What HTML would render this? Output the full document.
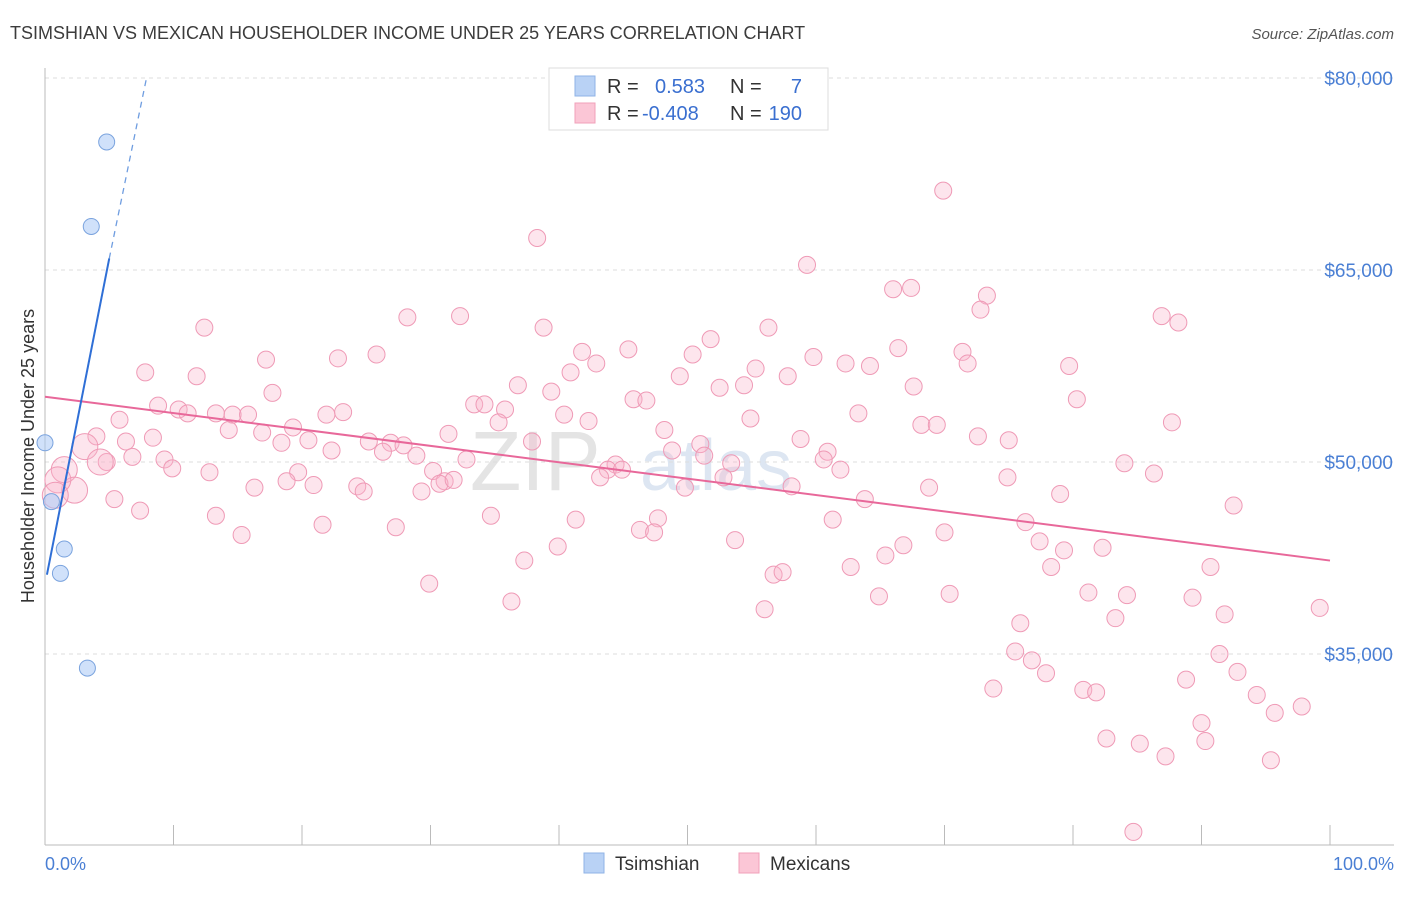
<!DOCTYPE html>
<html><head><meta charset="utf-8">
<style>
body{margin:0;background:#fff;font-family:"Liberation Sans",sans-serif;}
svg text{font-family:"Liberation Sans",sans-serif;}
</style></head>
<body>
<svg id="chart" width="1406" height="892" viewBox="0 0 1406 892">
<text x="10" y="39" font-size="18" fill="#3c3c3c">TSIMSHIAN VS MEXICAN HOUSEHOLDER INCOME UNDER 25 YEARS CORRELATION CHART</text>
<text x="1394" y="39" font-size="15" fill="#555" font-style="italic" text-anchor="end">Source: ZipAtlas.com</text>
<text x="470" y="490" font-size="84" fill="#e4e4e4" font-family="Liberation Serif">ZIP</text>
<text x="640" y="490" font-size="72" fill="#dde6f2">atlas</text>
<g id="grid"></g>
<g id="axes"></g>
<g id="marks"></g>
<text transform="translate(34,456) rotate(-90)" font-size="18" fill="#333" text-anchor="middle">Householder Income Under 25 years</text>
<text x="45" y="870" font-size="18" fill="#4a7fd4">0.0%</text>
<text x="1394" y="870" font-size="18" fill="#4a7fd4" text-anchor="end">100.0%</text>
<g>
<rect x="549" y="68" width="279" height="62" fill="#fff" stroke="#ddd"/>
<rect x="575" y="76" width="20" height="20" fill="#b9d2f5" stroke="#8fb3e6"/>
<rect x="575" y="103" width="20" height="20" fill="#fbc6d6" stroke="#f0a0ba"/>
<text x="607" y="93" font-size="20" fill="#333">R =</text>
<text x="655" y="93" font-size="20" fill="#3a6fd0">0.583</text>
<text x="730" y="93" font-size="20" fill="#333">N =</text>
<text x="802" y="93" font-size="20" fill="#3a6fd0" text-anchor="end">7</text>
<text x="607" y="120" font-size="20" fill="#333">R =</text>
<text x="642" y="120" font-size="20" fill="#3a6fd0">-0.408</text>
<text x="730" y="120" font-size="20" fill="#333">N =</text>
<text x="802" y="120" font-size="20" fill="#3a6fd0" text-anchor="end">190</text>
</g>
<g>
<rect x="584" y="853" width="20" height="20" fill="#b9d2f5" stroke="#8fb3e6"/>
<text x="615" y="870" font-size="19" fill="#333">Tsimshian</text>
<rect x="739" y="853" width="20" height="20" fill="#fbc6d6" stroke="#f0a0ba"/>
<text x="770" y="870" font-size="19" fill="#333">Mexicans</text>
</g>
</svg>
<script>
const yTicks=[35000,50000,65000,80000];
const yTickLabels=["$35,000","$50,000","$65,000","$80,000"];
const tsX=[0.0,0.5,4.8,3.6,1.5,1.2,3.3];
const tsY=[51.5,46.9,75.0,68.4,43.2,41.3,33.9];
const mxX=[69.9,38.3,59.3,66.0,67.4,73.3,72.8,28.2,32.3,12.4,38.8,56.3,86.9,88.2,51.8,71.4,17.2,22.8,25.8,41.8,45.4,50.4,42.9,59.8,62.3,64.2,66.4,71.8,79.7,7.8,11.8,40.9,49.4,55.3,57.8,36.8,39.4,52.5,54.4,67.6,17.7,80.3,8.8,10.4,11.1,13.3,14.6,15.8,21.9,23.2,33.4,34.2,35.8,45.8,46.8,40.4,42.3,54.9,63.3,87.7,5.8,14.3,16.9,19.3,35.3,68.2,69.4,48.2,72.6,75.0,4.0,8.4,6.3,20.5,22.3,25.2,26.9,27.9,31.4,37.9,51.0,58.8,60.9,28.9,26.3,18.4,32.8,48.8,51.3,60.6,4.8,6.8,9.3,9.9,12.8,19.7,30.2,44.4,53.4,61.9,43.8,44.9,84.0,86.3,74.9,52.8,43.2,31.1,30.7,31.8,24.3,24.8,20.9,18.8,16.3,29.3,49.8,58.1,63.8,68.8,79.0,92.5,5.4,7.4,13.3,15.3,21.6,27.3,34.7,41.3,47.7,61.3,76.3,46.3,47.4,53.7,70.0,77.4,79.3,82.3,39.9,37.3,65.4,66.8,90.7,29.9,56.7,57.4,62.7,78.3,81.2,84.2,89.3,64.9,70.4,36.3,56.0,83.3,91.8,99.2,75.9,75.5,76.8,77.9,91.4,92.8,73.8,80.8,81.8,88.8,94.3,95.7,97.8,90.0,82.6,85.2,90.3,87.2,95.4,84.7,1.5,2.3,3.1,4.3,1.0,0.8];
const mxY=[71.2,67.5,65.4,63.5,63.6,63.0,61.9,61.3,61.4,60.5,60.5,60.5,61.4,60.9,59.6,58.6,58.0,58.1,58.4,58.6,58.8,58.4,57.7,58.2,57.7,57.5,58.9,57.7,57.5,57.0,56.7,57.0,56.7,57.3,56.7,56.0,55.5,55.8,56.0,55.9,55.4,54.9,54.4,54.1,53.8,53.8,53.7,53.7,53.7,53.9,54.5,54.5,54.1,54.9,54.8,53.7,53.2,53.4,53.8,53.1,53.3,52.5,52.3,52.7,53.1,52.9,52.9,52.5,52.0,51.7,52.0,51.9,51.6,51.7,50.9,51.6,51.5,51.3,52.2,51.6,51.4,51.8,50.8,50.5,50.8,51.5,50.2,50.9,50.5,50.2,50.0,50.4,50.2,49.5,49.2,49.2,49.3,49.8,49.9,49.4,49.4,49.4,49.9,49.1,48.8,48.8,48.8,48.5,48.3,48.6,48.1,47.7,48.2,48.5,48.0,47.7,48.0,48.1,47.1,48.0,47.5,46.6,47.1,46.2,45.8,44.3,45.1,44.9,45.8,45.5,45.6,45.5,45.3,44.7,44.5,43.9,44.5,43.8,43.1,43.3,43.4,42.3,42.7,43.5,41.8,40.5,41.2,41.4,41.8,41.8,39.8,39.6,39.4,39.5,39.7,39.1,38.5,37.8,38.1,38.6,37.4,35.2,34.5,33.5,35.0,33.6,32.3,32.2,32.0,33.0,31.8,30.4,30.9,29.6,28.4,28.0,28.2,27.0,26.7,21.1,49.4,47.8,51.2,50.0,48.6,47.4];
const mxBig=[0,0,0,0,0,0];
const tsLine=[0.15,41.2,5.0,65.9,7.9,80.0];
const mxLine=[0,55.1,100,42.3];

const NS="http://www.w3.org/2000/svg";
const X=p=>45+p*12.85;
const Y=k=>462-(k-50)*12.8;
function mk(tag,attrs,parent){const e=document.createElementNS(NS,tag);for(const k in attrs)e.setAttribute(k,attrs[k]);parent.appendChild(e);return e;}
const grid=document.getElementById('grid'),axes=document.getElementById('axes'),marks=document.getElementById('marks');
yTicks.forEach((t,i)=>{
  const g=mk('line',{x1:45,x2:1394,y1:Y(t/1000),y2:Y(t/1000),stroke:'#ddd','stroke-dasharray':'4,4'},grid);
  
  
  const tx=mk('text',{x:1393,y:Y(t/1000)+7,'font-size':19,fill:'#4a7fd4','text-anchor':'end'},axes);
  tx.textContent=yTickLabels[i];
  
  
});
const ax=mk('line',{x1:45,x2:45,y1:68,y2:845,stroke:'#bbb'},axes);


const bx=mk('line',{x1:45,x2:1394,y1:845,y2:845,stroke:'#bbb'},axes);


for(let i=1;i<=10;i++){
  const t=mk('line',{x1:X(i*10),x2:X(i*10),y1:825,y2:845,stroke:'#bbb'},axes);
  
  
}
mxX.forEach((x,i)=>{
  const big=i>=mxX.length-6;
  const c=mk('circle',{cx:X(x),cy:Y(mxY[i]),r:big?13:8.5,fill:'rgba(248,180,204,0.35)',stroke:'#ef9ab6','stroke-width':1},marks);
  
  
});
const ml=mk('line',{x1:X(mxLine[0]),y1:Y(mxLine[1]),x2:X(mxLine[2]),y2:Y(mxLine[3]),stroke:'#e8689a','stroke-width':2},marks);


tsX.forEach((x,i)=>{
  const c=mk('circle',{cx:X(x),cy:Y(tsY[i]),r:8,fill:'rgba(170,200,245,0.55)',stroke:'#7aa3de','stroke-width':1},marks);
  
  
});
const tl=mk('line',{x1:X(tsLine[0]),y1:Y(tsLine[1]),x2:X(tsLine[2]),y2:Y(tsLine[3]),stroke:'#2f6fd6','stroke-width':2},marks);


const td=mk('line',{x1:X(tsLine[2]),y1:Y(tsLine[3]),x2:X(tsLine[4]),y2:Y(tsLine[5]),stroke:'#6f9de0','stroke-width':1.3,'stroke-dasharray':'6,5'},marks);


</script>
</body></html>
